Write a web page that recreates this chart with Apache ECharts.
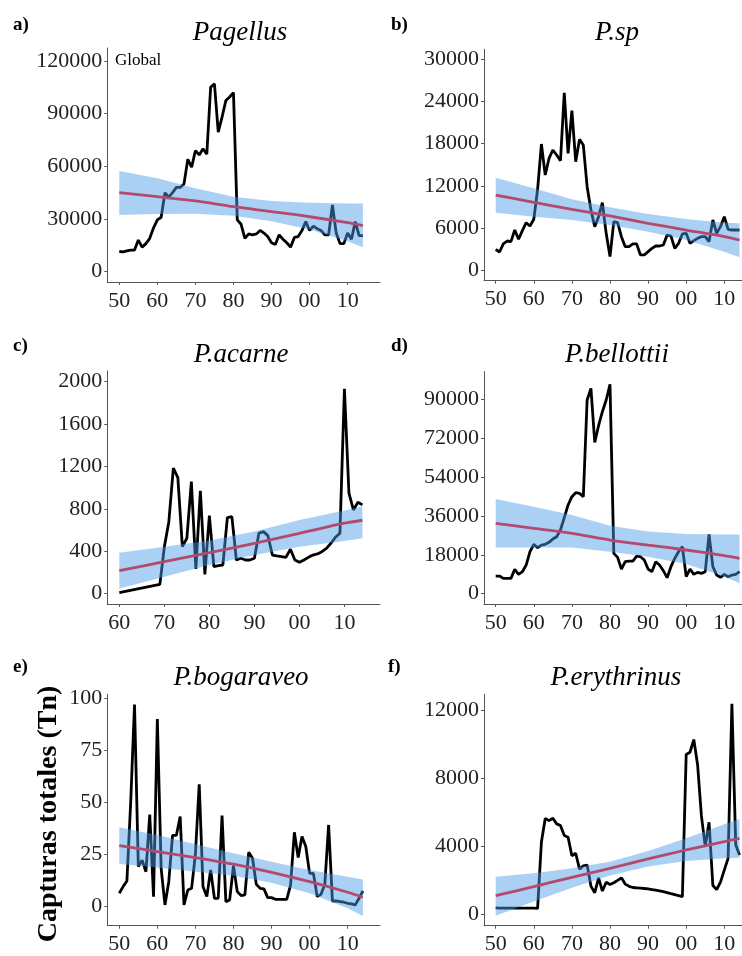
<!DOCTYPE html>
<html><head><meta charset="utf-8">
<script src="https://cdn.jsdelivr.net/npm/echarts@6/dist/echarts.min.js"></script>
<style>html,body{margin:0;padding:0;background:#fff}#c{width:742px;height:956px}</style>
</head><body><div id="c"></div>
<script>
// ---------- DATA ----------
const years = [1950,1951,1952,1953,1954,1955,1956,1957,1958,1959,1960,1961,1962,1963,1964,1965,1966,1967,1968,1969,1970,1971,1972,1973,1974,1975,1976,1977,1978,1979,1980,1981,1982,1983,1984,1985,1986,1987,1988,1989,1990,1991,1992,1993,1994,1995,1996,1997,1998,1999,2000,2001,2002,2003,2004,2005,2006,2007,2008,2009,2010,2011,2012,2013,2014];
const yearsAcarne = [1960,1969,1970,1971,1972,1973,1974,1975,1976,1977,1978,1979,1980,1981,1982,1983,1984,1985,1986,1987,1988,1989,1990,1991,1992,1993,1994,1995,1996,1997,1998,1999,2000,2001,2002,2003,2004,2005,2006,2007,2008,2009,2010,2011,2012,2013,2014];

const pagellus = [11500,11300,11800,12300,12300,18000,14000,16000,19000,25000,29500,31000,45000,42500,45000,48000,48000,50000,64000,59500,69000,66500,70000,67000,105000,107000,79500,88000,97500,99500,102000,29500,27000,19000,21500,21000,21500,23500,22000,20000,16500,15500,21000,18500,16500,14000,19500,20000,23500,28500,23500,26000,24500,23500,21000,21000,38000,22000,16000,16000,22000,18500,28500,20500,20500];
const pSp = [2980,2600,3740,4160,4070,5720,4400,5630,6760,6290,7240,11500,17930,13530,15890,17080,16370,15560,25210,16600,22660,15420,18590,17780,11870,8560,6200,7620,9600,5250,1940,6900,6760,4780,3360,3360,3740,3740,2180,2180,2650,3120,3450,3450,3590,5010,4870,3120,3830,5160,5250,3830,4210,4540,4780,4780,4070,7140,5250,6200,7620,5820,5720,5720,5720];
const pAcarne = [10,88,440,680,1184,1096,444,523,1058,233,970,183,737,255,265,271,718,728,318,334,318,318,334,570,586,548,365,356,350,343,419,318,296,318,343,365,375,397,428,476,532,570,1934,948,790,863,838];
const pBellottii = [8170,8170,7090,7090,7090,11250,8940,10170,13250,19420,22810,21270,22500,22810,23730,25270,26350,29430,35130,40990,44840,46690,46380,44840,89530,94930,69960,77660,84130,89530,96770,18650,16800,11400,14790,15100,15100,17410,17100,15560,11400,10170,14790,13250,10630,7400,12480,16330,19420,21730,7860,11400,8940,9860,9400,10170,27430,12480,8630,7550,8940,7860,8630,8940,10170];
const pBogaraveo = [6.1,9.3,12,50,97,19,22,16.5,44,4.5,90,18,0.5,11.7,34,34,43,0.5,7.7,8.5,25,58.6,9.3,4.5,17.3,3.7,3.7,43.5,2.1,2.9,19.4,6.9,5,5.3,25.8,23,10.4,8.5,8.2,4,4,3.2,3.2,3.2,3.2,10,35.5,23.3,33.4,28.6,15.7,15.7,4.5,5.6,10.4,39,2.4,2.4,2.1,1.8,1.3,1,0.5,3.7,7.2];
const pErythrinus = [380,360,360,360,360,360,360,360,360,360,360,350,4260,5650,5520,5660,5330,5230,4640,4540,3450,3600,2660,2860,2900,1660,1270,2150,1370,1890,1760,1860,2000,2150,1780,1650,1580,1560,1540,1520,1500,1460,1420,1380,1330,1280,1220,1160,1100,1040,9420,9550,10300,8800,5800,4000,5420,1700,1460,1900,2600,3300,12400,4100,3500];

// fitted regression and confidence band
const fitYears = [1950,1960,1970,1980,1990,2000,2010,2014];
const fitYearsAcarne = [1960,1970,1980,1990,2000,2010,2014];
const fitA = [45000,42700,40300,37000,34200,31300,27900,26200];
const upA  = [57300,53200,47500,42700,40300,39300,38900,38900];
const loA  = [32300,32800,33000,31800,28700,24000,17300,13900];
const fitB = [10690,9650,8660,7710,6670,5720,4780,4300];
const upB  = [13150,11640,10070,8940,7990,7280,6760,6670];
const loB  = [8180,7620,7140,6430,5490,4300,2650,1840];
const fitC = [217,302,387,476,570,665,693];
const upC  = [387,444,501,586,696,784,822];
const loC  = [50,161,271,365,444,498,523];
const fitD = [32500,30200,27900,24800,22500,20200,17600,16300];
const upD  = [43760,40200,36400,31400,28700,27600,27400,27400];
const loD  = [21300,21300,21300,19400,17100,13700,7900,4800];
const fitE = [29.1,26.2,23.3,20.1,16.2,11.7,6.6,4.2];
const upE  = [37.9,34.2,29.7,25.4,21.3,17.3,14.1,12.8];
const loE  = [20.2,18.5,16.5,14.6,11.2,6.1,-1.1,-4.8];
const fitF = [1100,1630,2180,2710,3260,3790,4280,4480];
const upF  = [2220,2420,2710,3100,3730,4480,5300,5620];
const loF  = [-80,750,1570,2280,2810,3140,3300,3340];

// tick labels
const xTicks = [1950,1960,1970,1980,1990,2000,2010];
const xTicksAcarne = [1960,1970,1980,1990,2000,2010];
const yTicksA = [0,30000,60000,90000,120000];
const yTicksB = [0,6000,12000,18000,24000,30000];
const yTicksC = [0,400,800,1200,1600,2000];
const yTicksD = [0,18000,36000,54000,72000,90000];
const yTicksE = [0,25,50,75,100];
const yTicksF = [0,4000,8000,12000];

const panelLetters = ['a)','b)','c)','d)','e)','f)'];
const panelTitles = ['Pagellus','P.sp','P.acarne','P.bellottii','P.bogaraveo','P.erythrinus'];
const yAxisTitle = 'Capturas totales (Tn)';
const noteText = 'Global';

// ---------- LAYOUT ----------
const panels = [
  {left:107.3, top:48,    width:272.7, height:234,   xmin:1946.85, xmax:2018.5, ymin:-5866, ymax:127400, lx:13,  ly:25,  tx:240, ty:33},
  {left:484,   top:49.3,  width:258,   height:231.4, xmin:1946.93, xmax:2014.65, ymin:-1477, ymax:31377, lx:391, ly:25,  tx:617, ty:33},
  {left:107.3, top:371,   width:272.7, height:233,   xmin:1957.33, xmax:2017.9, ymin:-97,   ymax:2101,   lx:13,  ly:346, tx:241, ty:355},
  {left:484,   top:371.7, width:258,   height:232.3, xmin:1946.93, xmax:2014.65, ymin:-4761, ymax:102620, lx:391, ly:346, tx:617, ty:355},
  {left:107.3, top:694.3, width:272.7, height:231.4, xmin:1946.85, xmax:2018.5, ymin:-9.5,  ymax:101.9,  lx:13,  ly:667, tx:241, ty:678},
  {left:484,   top:694.3, width:258,   height:231.4, xmin:1946.93, xmax:2014.65, ymin:-672,  ymax:12966,  lx:388, ly:667, tx:616, ty:678}
];

const D = [
  {x:years, y:pagellus, fx:fitYears, fit:fitA, up:upA, lo:loA, xt:xTicks, yt:yTicksA},
  {x:years, y:pSp, fx:fitYears, fit:fitB, up:upB, lo:loB, xt:xTicks, yt:yTicksB},
  {x:yearsAcarne, y:pAcarne, fx:fitYearsAcarne, fit:fitC, up:upC, lo:loC, xt:xTicksAcarne, yt:yTicksC},
  {x:years, y:pBellottii, fx:fitYears, fit:fitD, up:upD, lo:loD, xt:xTicks, yt:yTicksD},
  {x:years, y:pBogaraveo, fx:fitYears, fit:fitE, up:upE, lo:loE, xt:xTicks, yt:yTicksE},
  {x:years, y:pErythrinus, fx:fitYears, fit:fitF, up:upF, lo:loF, xt:xTicks, yt:yTicksF}
];

const FONT = '"Liberation Serif", "Times New Roman", serif';
const AX = '#555';
const BAND = 'rgba(74,158,230,0.47)';
const FIT = '#b4496e';

const series = [];
D.forEach((d,i)=>{
  series.push({type:'line', xAxisIndex:i, yAxisIndex:i, data:d.x.map((yr,k)=>[yr,d.y[k]]),
    symbol:'none', lineStyle:{color:'#000', width:2.8}, z:2, silent:true});
  series.push({type:'custom', xAxisIndex:i, yAxisIndex:i, z:3, silent:true,
    data:d.fx.map((yr,k)=>[yr,d.lo[k],d.up[k]]),
    encode:{x:0, y:[1,2]},
    renderItem:function(params, api){
      if (params.dataIndex !== 0) return null;
      const pts = [];
      for (let k=0;k<d.fx.length;k++) pts.push(api.coord([d.fx[k], d.up[k]]));
      for (let k=d.fx.length-1;k>=0;k--) pts.push(api.coord([d.fx[k], d.lo[k]]));
      return {type:'polygon', shape:{points:pts}, style:{fill:BAND, stroke:null}};
    }});
  series.push({type:'line', xAxisIndex:i, yAxisIndex:i, data:d.fx.map((yr,k)=>[yr,d.fit[k]]),
    symbol:'none', smooth:0.3, lineStyle:{color:FIT, width:2.8}, z:4, silent:true});
});

const graphics = [];
panels.forEach((p,i)=>{
  graphics.push({type:'text', x:p.lx, y:p.ly, style:{text:panelLetters[i], font:'bold 19px '+FONT, fill:'#000',
    align:'left', textAlign:'left', verticalAlign:'middle', textVerticalAlign:'middle'}});
  graphics.push({type:'text', x:p.tx, y:p.ty, style:{text:panelTitles[i], font:'italic 27px '+FONT, fill:'#000',
    align:'center', textAlign:'center', verticalAlign:'middle', textVerticalAlign:'middle'}});
});
graphics.push({type:'text', x:115, y:61, style:{text:noteText, font:'17px '+FONT, fill:'#000',
  align:'left', textAlign:'left', verticalAlign:'middle', textVerticalAlign:'middle'}});
graphics.push({type:'text', x:49, y:814, rotation:Math.PI/2, style:{text:yAxisTitle, font:'bold 28px '+FONT, fill:'#000',
  align:'center', textAlign:'center', verticalAlign:'middle', textVerticalAlign:'middle'}});

const option = {
  animation:false,
  backgroundColor:'#fff',
  grid: panels.map(p=>({left:p.left, top:p.top, width:p.width, height:p.height})),
  xAxis: panels.map((p,i)=>({type:'value', gridIndex:i, min:p.xmin, max:p.xmax, splitLine:{show:false},
    axisLine:{show:true, onZero:false, lineStyle:{color:AX, width:1}},
    axisTick:{show:true, length:3, customValues:D[i].xt, lineStyle:{color:AX}},
    axisLabel:{customValues:D[i].xt, formatter:v=>String(v%100).padStart(2,'0'),
      fontFamily:FONT, fontSize:22, color:'#222', margin:8}})),
  yAxis: panels.map((p,i)=>({type:'value', gridIndex:i, min:p.ymin, max:p.ymax, splitLine:{show:false},
    axisLine:{show:true, onZero:false, lineStyle:{color:AX, width:1}},
    axisTick:{show:true, length:3, customValues:D[i].yt, lineStyle:{color:AX}},
    axisLabel:{customValues:D[i].yt, formatter:v=>String(v),
      fontFamily:FONT, fontSize:22, color:'#222', margin:5}})),
  series: series,
  graphic: graphics
};
const chart = echarts.init(document.getElementById('c'));
chart.setOption(option);
</script></body></html>
